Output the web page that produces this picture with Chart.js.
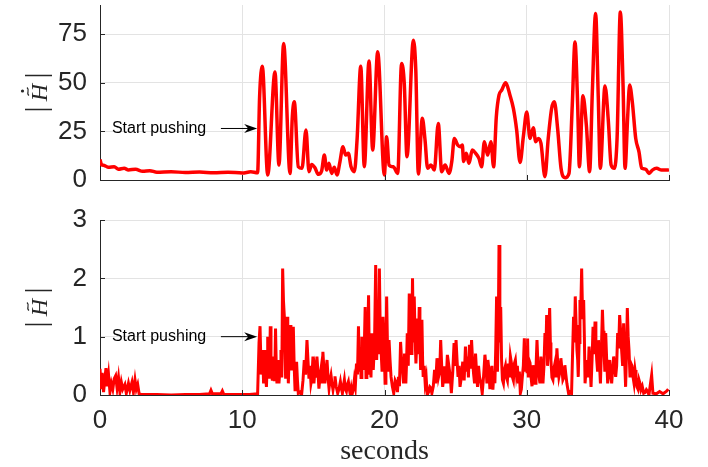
<!DOCTYPE html>
<html>
<head>
<meta charset="utf-8">
<script src="https://cdn.jsdelivr.net/npm/chart.js@4"></script>
<style>
  html, body { margin: 0; padding: 0; background: #ffffff; }
  #wrap { position: relative; width: 708px; height: 467px; }
  canvas { position: absolute; left: 0; }
  #topChart { top: 0; }
  #bottomChart { top: 200px; }
</style>
</head>
<body>
<div id="wrap">
  <canvas id="topChart" width="708" height="200"></canvas>
  <canvas id="bottomChart" width="708" height="267"></canvas>
</div>
<script>
// Tick labels
const xTicks = [0, 10, 20, 30, 40];
const topYTicks = [0, 25, 50, 75];
const bottomYTicks = [0, 1, 2, 3];

// |dH~| over time (upper panel)
const topSeconds = [
  0, 0.1, 0.3, 0.6, 1.0, 1.3, 1.7, 2.0, 2.5, 3.0, 3.5, 4.0, 5.0, 6.0, 7.0, 8.0, 9.0, 10.0, 10.6, 11.08,
  11.22, 11.41, 11.79, 12.3, 12.58, 12.91, 13.36, 13.52, 13.66, 13.94, 14.2, 14.48, 14.69, 14.88, 15.11,
  15.35, 15.58, 15.77, 15.94, 16.1, 16.28, 16.47, 16.66, 16.87, 17.08, 17.27, 17.46, 17.65, 17.88, 18.07,
  18.33, 18.58, 18.91, 19.17, 19.52, 19.99, 20.15, 20.32, 20.62, 20.93, 21.2, 21.39, 21.58, 22.03, 22.2,
  22.38, 22.66, 22.85, 23.03, 23.27, 23.5, 23.78, 24.02, 24.26, 24.54, 24.73, 24.91, 25.14, 25.33, 25.47,
  25.56, 25.75, 25.94, 26.17, 26.41, 26.64, 26.83, 27.02, 27.25, 27.48, 27.67, 27.86, 28.05, 28.24, 28.52,
  28.82, 29.06, 29.29, 29.53, 29.76, 30.0, 30.23, 30.46, 30.63, 30.81, 31.0, 31.28, 31.51, 31.75, 31.94,
  32.17, 32.41, 32.69, 32.97, 33.2, 33.39, 33.58, 33.7, 33.95, 34.19, 34.42, 34.61, 34.84, 35.03, 35.17,
  35.5, 35.74, 35.93, 36.16, 36.35, 36.58, 36.77, 36.91, 37.1, 37.23, 37.42, 37.66, 37.89, 38.08, 38.36,
  38.59, 38.83, 39.13, 39.48, 39.9, 40.0
];
const topMagnitude = [
  10.5, 8.0, 7.5, 6.5, 6.8, 5.5, 6.0, 5.2, 5.5, 4.5, 4.8, 4.0, 4.3, 3.8, 4.1, 3.7, 4.0, 3.6, 4.2, 3.7,
  42.8, 58.5, 2.6, 55.6, 7.7, 70.2, 3.4, 32.5, 40.2, 6.8, 6.0, 25.7, 4.3, 8.0, 6.3,
  2.9, 4.6, 12.8, 5.1, 8.6, 3.4, 6.5, 2.6, 9.5, 17.1, 12.8, 13.7, 6.8, 4.3, 20.5,
  58.5, 6.8, 61.2, 15.4, 65.9, 2.6, 22.2, 7.7, 6.8, 3.4, 59.9, 49.6, 12.0, 71.9, 56.5,
  3.1, 31.7, 20.5, 6.0, 7.7, 5.1, 29.1, 4.3, 7.7, 3.4, 9.5, 21.4, 18.0, 17.1, 18.0,
  9.5, 13.7, 8.6, 15.4, 13.7, 11.1, 6.8, 19.7, 12.8, 19.7, 6.8, 32.5, 43.6, 46.2, 50.0,
  43.6, 36.8, 25.7, 9.0, 22.2, 35.0, 21.4, 26.9, 19.7, 21.4, 18.8, 1.7, 21.4, 36.8, 40.2,
  26.5, 6.0, 1.2, 3.4, 38.5, 71.0, 38.5, 6.8, 43.3, 28.2, 4.3, 45.3, 85.6, 41.9, 6.0,
  48.4, 29.9, 7.7, 6.0, 21.4, 86.4, 48.8, 6.0, 33.4, 48.8, 40.2, 21.4, 14.5, 6.0, 5.6,
  3.4, 5.1, 6.0, 5.1, 5.1, 5.3
];

// |H~| over time (lower panel): main swings
const bottomSeconds = [
  0, 0.08, 0.15, 0.25, 0.35, 0.42, 0.5, 0.6, 0.7, 0.8, 0.9, 1.0, 1.1, 1.2, 1.3, 1.4, 1.5, 1.6, 1.75, 1.85,
  2.0, 2.1, 2.25, 2.35, 2.46, 2.55, 2.65, 2.75, 2.9, 4.0, 5.0, 6.0, 7.0, 7.7, 7.8, 7.9, 8.5, 8.6, 8.7, 9.5,
  10.5, 11.08,
  11.25, 11.41, 11.5, 11.6, 11.7, 11.79, 11.88, 11.97, 12.06, 12.18, 12.25, 12.34, 12.44, 12.53, 12.63,
  12.72, 12.84, 12.96, 13.05, 13.15, 13.24, 13.36, 13.47, 13.59, 13.71, 13.82, 13.94, 14.17, 14.36, 14.55,
  14.69, 14.83, 14.97, 15.11, 15.25, 15.39, 15.53, 15.67, 15.81, 15.96, 16.1, 16.24, 16.38, 16.52, 16.71,
  16.9, 17.04, 17.18, 17.32, 17.46, 17.6, 17.74, 17.88, 18.03, 18.17, 18.29, 18.41, 18.52, 18.64, 18.76,
  18.88, 18.99, 19.11, 19.21, 19.38, 19.52, 19.64, 19.76, 19.9, 20.04,
  20.15, 20.32, 20.46, 20.65, 20.84, 20.98, 21.13, 21.27, 21.41, 21.5, 21.6, 21.74, 21.88, 21.97, 22.09,
  22.21, 22.33, 22.44, 22.54, 22.63, 22.72, 22.86, 23.0, 23.19, 23.33, 23.52, 23.69, 23.8, 23.95, 24.09,
  24.23, 24.42, 24.56, 24.7, 24.89, 25.03, 25.17, 25.31, 25.5, 25.69, 25.83, 25.97, 26.12, 26.26, 26.4,
  26.54, 26.68, 26.87, 27.06, 27.2, 27.34, 27.48, 27.62, 27.76, 27.88, 28.0, 28.05, 28.17, 28.29, 28.43,
  28.57, 28.71, 28.85, 28.99, 29.13, 29.27, 29.41, 29.55, 29.69, 29.83, 29.97,
  30.06, 30.16, 30.3, 30.44, 30.58, 30.72, 30.86, 31.0, 31.14, 31.28, 31.4, 31.51, 31.61, 31.7, 31.84,
  31.98, 32.12, 32.26, 32.4, 32.54, 32.68, 32.82, 32.96, 33.15, 33.29, 33.41, 33.53, 33.62, 33.74, 33.86,
  34.0, 34.1, 34.24, 34.38, 34.52, 34.66, 34.8, 34.92, 35.04, 35.18, 35.32, 35.43, 35.55, 35.69, 35.83,
  35.97, 36.11, 36.25, 36.39, 36.53, 36.67, 36.81, 36.95, 37.07, 37.19, 37.33, 37.47, 37.61, 37.75, 37.89,
  38.03, 38.22, 38.41, 38.59, 38.78, 38.87, 39.11, 39.34, 39.58, 39.81, 39.95
];
const bottomMagnitude = [
  0.45, 0.10, 0.38, 0.05, 0.30, 0.46, 0.15, 0.35, 0.05, 0.20, 0.10, 0.28, 0.33, 0.12, 0.30, 0.05, 0.22, 0.10, 0.18, 0.03,
  0.20, 0.08, 0.22, 0.05, 0.26, 0.10, 0.18, 0.02, 0.01, 0.01, 0.00, 0.01, 0.01, 0.02, 0.08, 0.02, 0.02, 0.07, 0.01, 0.01,
  0.01, 0.02,
  1.18, 0.77, 0.20, 0.77, 0.14, 1.00, 0.28, 1.18, 0.34, 0.66, 0.26, 1.14, 0.20, 0.60, 0.37,
  0.77, 2.17, 1.34, 0.28, 1.34, 0.20, 1.20, 0.42, 1.17, 0.09, 0.57, 0.03, 0.00, 0.60, 0.94,
  0.28, 0.20, 0.66, 0.43, 0.66, 0.11, 0.43, 0.74, 0.20, 0.60, 0.11, 0.34, 0.09, 0.32, 0.03,
  0.23, 0.03, 0.26, 0.06, 0.23, 0.00, 0.03, 0.26, 0.54, 1.18, 0.66, 1.00, 0.43, 1.51, 0.66,
  1.71, 0.60, 1.06, 0.43, 2.23, 1.34, 2.17, 0.77, 1.34, 0.20,
  1.69, 0.94, 0.31, 0.03, 0.20, 0.31, 0.91, 0.43, 0.71, 0.20, 1.06, 1.74, 0.71, 2.00, 1.69,
  0.54, 1.31, 1.51, 0.43, 1.29, 0.31, 0.20, 0.00, 0.14, 0.03, 0.43, 0.63, 0.31, 0.94, 0.14,
  0.49, 0.69, 0.43, 0.03, 0.89, 0.94, 0.31, 0.14, 0.57, 0.83, 0.66, 0.86, 0.94, 0.37, 0.71,
  0.14, 0.31, 0.03, 0.69, 0.20, 0.43, 0.31, 0.09, 0.20, 1.69, 1.14, 2.57, 1.51, 0.26, 0.43,
  0.31, 0.54, 0.66, 0.31, 0.54, 0.37, 0.20, 0.03, 0.31, 0.97, 0.83,
  0.97, 0.60, 0.31, 0.51, 0.20, 0.94, 0.31, 0.66, 0.20, 1.06, 1.37, 0.77, 1.49, 0.60, 0.26,
  0.54, 0.80, 0.31, 0.63, 0.26, 0.51, 0.20, 0.00, 0.03, 1.34, 1.69, 0.77, 0.31, 1.63, 2.17,
  1.63, 0.20, 0.60, 0.83, 0.14, 1.17, 1.26, 0.60, 0.94, 0.20, 1.46, 0.77, 1.06, 0.20, 0.60,
  0.20, 0.66, 0.31, 1.06, 1.37, 0.77, 1.23, 0.14, 1.49, 0.77, 0.54, 0.31, 0.43, 0.14, 0.26,
  0.09, 0.03, 0.09, 0.00, 0.34, 0.03, 0.02, 0.06, 0.02, 0.06, 0.10
];

// |H~| over time (lower panel): in-between samples of the fast jitter
const bottomDetailSeconds = [
  11.18, 11.33, 11.46, 11.55, 11.65, 11.75, 11.84, 11.93, 12.02, 12.12, 12.22, 12.3, 12.39, 12.48, 12.58,
  12.68, 12.78, 12.9, 13.0, 13.1, 13.2, 13.3, 13.42, 13.53, 13.65, 13.77, 13.88, 14.05, 14.27, 14.45,
  14.62, 14.76, 14.9, 15.04, 15.18, 15.32, 15.46, 15.6, 15.74, 15.88, 16.03, 16.17, 16.31, 16.45, 16.6,
  16.8, 16.97, 17.11, 17.25, 17.39, 17.53, 17.67, 17.81, 17.95, 18.1, 18.23, 18.35, 18.47, 18.58, 18.7,
  18.82, 18.94, 19.05, 19.16, 19.3, 19.45, 19.58, 19.7, 19.83, 19.97, 20.1,
  20.24, 20.39, 20.55, 20.75, 20.91, 21.05, 21.2, 21.34, 21.46, 21.55, 21.67, 21.81, 21.93, 22.03, 22.15,
  22.27, 22.38, 22.49, 22.58, 22.68, 22.79, 22.93, 23.1, 23.26, 23.43, 23.6, 23.75, 23.88, 24.02, 24.16,
  24.33, 24.49, 24.63, 24.8, 24.96, 25.1, 25.24, 25.4, 25.6, 25.76, 25.9, 26.05, 26.19, 26.33, 26.47,
  26.61, 26.78, 26.96, 27.13, 27.27, 27.41, 27.55, 27.69, 27.82, 27.94, 28.11, 28.23, 28.36, 28.5, 28.64,
  28.78, 28.92, 29.06, 29.2, 29.34, 29.48, 29.62, 29.76, 29.9, 30.02,
  30.11, 30.23, 30.37, 30.51, 30.65, 30.79, 30.93, 31.07, 31.21, 31.34, 31.46, 31.56, 31.66, 31.77, 31.91,
  32.05, 32.19, 32.33, 32.47, 32.61, 32.75, 32.89, 33.05, 33.22, 33.35, 33.47, 33.58, 33.68, 33.8, 33.93,
  34.05, 34.17, 34.31, 34.45, 34.59, 34.73, 34.86, 34.98, 35.11, 35.25, 35.37, 35.49, 35.62, 35.76, 35.9,
  36.04, 36.18, 36.32, 36.46, 36.6, 36.74, 36.88, 37.01, 37.13, 37.26, 37.4, 37.54, 37.68, 37.82, 37.96,
  38.12, 38.31, 38.5
];
const bottomDetailMagnitude = [
  0.90, 0.35, 0.55, 0.45, 0.30, 0.50, 0.60, 0.50, 0.60, 0.25, 0.40, 0.55, 0.50, 0.35, 0.20,
  0.55, 0.30, 1.60, 0.80, 0.90, 0.60, 0.70, 0.90, 0.70, 0.50, 0.30, 0.25, 0.05, 0.25, 0.35,
  0.60, 0.50, 0.30, 0.20, 0.30, 0.40, 0.30, 0.20, 0.45, 0.40, 0.30, 0.25, 0.20, 0.20, 0.15,
  0.10, 0.12, 0.15, 0.10, 0.18, 0.10, 0.12, 0.10, 0.15, 0.35, 0.40, 0.30, 0.60, 0.80, 0.30,
  1.00, 0.35, 0.30, 0.70, 0.90, 0.60, 0.70, 1.10, 0.40, 0.90, 0.50,
  0.40, 0.60, 0.15, 0.25, 0.05, 0.15, 0.60, 0.20, 0.40, 0.55, 0.50, 1.10, 1.20, 0.90, 1.00,
  0.90, 0.70, 0.90, 0.80, 0.60, 0.50, 0.30, 0.05, 0.12, 0.15, 0.20, 0.50, 0.40, 0.50, 0.30,
  0.20, 0.20, 0.30, 0.40, 0.50, 0.60, 0.50, 0.30, 0.25, 0.40, 0.30, 0.45, 0.60, 0.20, 0.40,
  0.50, 0.20, 0.30, 0.50, 0.60, 0.10, 0.50, 0.40, 0.80, 0.40, 0.90, 0.60, 0.20, 0.50, 0.25,
  0.30, 0.55, 0.25, 0.60, 0.50, 0.40, 0.10, 0.50, 0.40, 0.40,
  0.30, 0.55, 0.15, 0.35, 0.45, 0.50, 0.20, 0.40, 0.50, 0.70, 0.50, 1.10, 0.90, 0.30, 0.45,
  0.30, 0.50, 0.40, 0.45, 0.30, 0.35, 0.10, 0.05, 0.70, 0.90, 1.20, 0.60, 0.90, 1.50, 1.30,
  1.00, 0.45, 0.30, 0.50, 0.60, 0.70, 0.90, 0.40, 0.55, 0.80, 1.10, 0.40, 0.60, 0.40, 0.35,
  0.45, 0.50, 0.50, 0.80, 1.10, 0.50, 0.60, 0.70, 1.00, 0.30, 0.50, 0.20, 0.30, 0.10, 0.20,
  0.15, 0.04, 0.06
];

const INK = '#262626';
const GRID = '#e3e3e3';
const TICK_FONT = { family: '"Liberation Sans", Arial, sans-serif', size: 26 };

function pairs(xs, ys) { return xs.map((x, i) => ({ x: x, y: ys[i] })); }

// Inward tick marks, annotation arrow, rotated LaTeX-style axis label
function makeDecorPlugin(cfg) {
  return {
    id: 'decor',
    afterDraw(chart) {
      const ctx = chart.ctx;
      const xs = chart.scales.x, ys = chart.scales.y;
      const a = chart.chartArea;
      ctx.save();
      // inward ticks
      ctx.strokeStyle = INK;
      ctx.lineWidth = 1;
      ctx.beginPath();
      xTicks.forEach(v => {
        const px = Math.round(xs.getPixelForValue(v)) + 0.5;
        ctx.moveTo(px, a.bottom); ctx.lineTo(px, a.bottom - 5);
      });
      cfg.yTicks.forEach(v => {
        const py = Math.round(ys.getPixelForValue(v)) + 0.5;
        ctx.moveTo(a.left, py); ctx.lineTo(a.left + 5, py);
      });
      ctx.stroke();

      // "Start pushing" note with arrow
      const ty = ys.getPixelForValue(cfg.noteY);
      ctx.fillStyle = '#000000';
      ctx.font = '16px "Liberation Sans", Arial, sans-serif';
      ctx.textAlign = 'left';
      ctx.textBaseline = 'middle';
      ctx.fillText('Start pushing', xs.getPixelForValue(0.84), ty);
      const x0 = xs.getPixelForValue(8.5), x1 = xs.getPixelForValue(11.05);
      ctx.strokeStyle = '#000000';
      ctx.lineWidth = 1;
      ctx.beginPath(); ctx.moveTo(x0, ty); ctx.lineTo(x1 - 8, ty); ctx.stroke();
      ctx.beginPath();
      ctx.moveTo(x1, ty);
      ctx.lineTo(x1 - 13, ty - 4.5);
      ctx.lineTo(x1 - 9, ty);
      ctx.lineTo(x1 - 13, ty + 4.5);
      ctx.closePath();
      ctx.fill();

      // y-axis label |H~| (with dot on the upper panel)
      const cy = (a.top + a.bottom) / 2;
      ctx.translate(40, cy);
      ctx.rotate(-Math.PI / 2);
      ctx.fillStyle = INK;
      ctx.strokeStyle = INK;
      const base = 7;
      ctx.lineWidth = 1.3;
      ctx.beginPath();
      ctx.moveTo(-17, base + 5); ctx.lineTo(-17, base - 22);
      ctx.moveTo(17, base + 5); ctx.lineTo(17, base - 22);
      ctx.stroke();
      ctx.font = 'italic 24px "Liberation Serif", "Times New Roman", serif';
      ctx.textAlign = 'center';
      ctx.textBaseline = 'alphabetic';
      ctx.fillText('H', 0, base);
      // tilde
      ctx.lineWidth = 1.2;
      ctx.beginPath();
      const tyy = base - 19;
      ctx.moveTo(-3, tyy + 1);
      ctx.bezierCurveTo(-1, tyy - 2.5, 2, tyy + 2.5, 5, tyy - 1);
      ctx.stroke();
      if (cfg.dot) {
        ctx.beginPath();
        ctx.arc(1.5, base - 24.5, 1.6, 0, Math.PI * 2);
        ctx.fill();
      }
      ctx.restore();

      if (cfg.xTitle) {
        ctx.save();
        ctx.fillStyle = INK;
        ctx.font = '28px "Liberation Serif", "Times New Roman", serif';
        ctx.textAlign = 'center';
        ctx.textBaseline = 'middle';
        ctx.fillText('seconds', (a.left + a.right) / 2, 252);
        ctx.restore();
      }
    }
  };
}

function makeChart(id, cfg) {
  return new Chart(document.getElementById(id), {
    type: 'line',
    data: {
      datasets: [{
        data: cfg.points,
        borderColor: '#ff0000',
        borderWidth: cfg.lineWidth,
        pointRadius: 0,
        fill: false,
        tension: cfg.smooth ? 0.4 : 0,
        cubicInterpolationMode: cfg.smooth ? 'monotone' : 'default'
      }]
    },
    options: {
      responsive: false,
      animation: false,
      devicePixelRatio: 1,
      layout: { padding: { left: 0, right: 39, top: cfg.padTop, bottom: 0 } },
      plugins: { legend: { display: false }, tooltip: { enabled: false } },
      scales: {
        x: {
          type: 'linear', min: 0, max: 40,
          afterBuildTicks: s => { s.ticks = xTicks.map(v => ({ value: v })); },
          afterFit: s => { s.height = cfg.xHeight; s.paddingLeft = 0; s.paddingRight = 0; },
          ticks: { display: cfg.showX, font: TICK_FONT, color: INK, padding: 10, maxRotation: 0 },
          grid: { color: GRID, drawTicks: false, lineWidth: 1 },
          border: { display: true, color: INK, width: 1 }
        },
        y: {
          type: 'linear', min: 0, max: cfg.yMax,
          afterBuildTicks: s => { s.ticks = cfg.yTicks.map(v => ({ value: v })); },
          afterFit: s => { s.width = 100; s.paddingTop = 0; s.paddingBottom = 0; },
          ticks: { font: TICK_FONT, color: INK, padding: 13 },
          grid: { color: GRID, drawTicks: false, lineWidth: 1 },
          border: { display: true, color: INK, width: 1 }
        }
      }
    },
    plugins: [makeDecorPlugin(cfg)]
  });
}

const bottomPoints = pairs(bottomSeconds, bottomMagnitude)
  .concat(pairs(bottomDetailSeconds, bottomDetailMagnitude))
  .sort((p, q) => p.x - q.x);

makeChart('topChart', {
  points: pairs(topSeconds, topMagnitude), smooth: true, lineWidth: 3.5,
  yMax: 90, yTicks: topYTicks, padTop: 5, xHeight: 20, showX: false,
  noteY: 26.5, dot: true, xTitle: false
});

makeChart('bottomChart', {
  points: bottomPoints, smooth: false, lineWidth: 3,
  yMax: 3, yTicks: bottomYTicks, padTop: 20, xHeight: 72, showX: true,
  noteY: 1.0, dot: false, xTitle: true
});
</script>
</body>
</html>
